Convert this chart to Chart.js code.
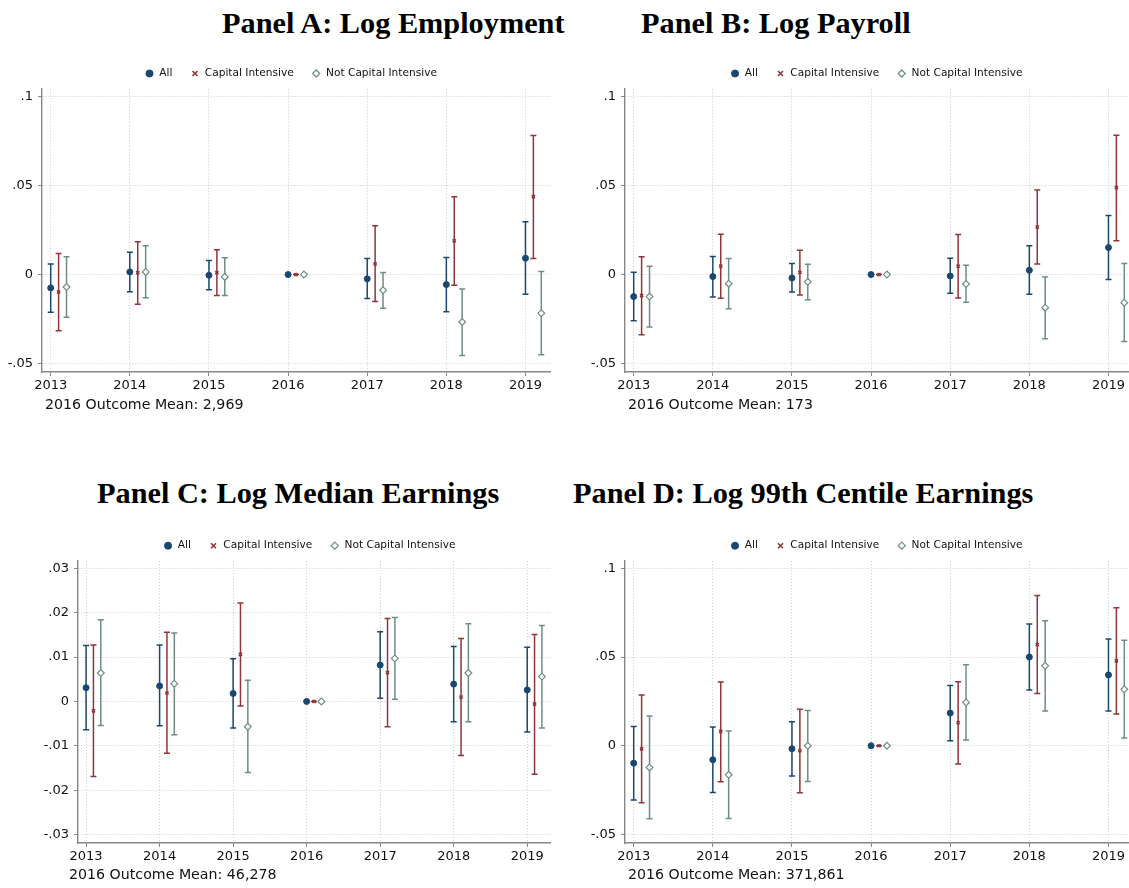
<!DOCTYPE html>
<html>
<head>
<meta charset="utf-8">
<script src="https://cdn.jsdelivr.net/npm/chart.js@4"></script>
<style>
  html, body { margin:0; padding:0; background:#fff; }
  body { width:1129px; height:888px; position:relative; overflow:hidden; }
  canvas { position:absolute; }
  .ttl { position:absolute; font-family:"Liberation Serif", serif; font-weight:bold; font-size:30.3px; line-height:30px; color:#000; white-space:nowrap; }
  .note { position:absolute; font-family:"DejaVu Sans", sans-serif; font-size:14.2px; line-height:14px; color:#111; white-space:nowrap; }
</style>
</head>
<body>
<div class="ttl" style="left:222px; top:8px;">Panel A: Log Employment</div>
<div class="ttl" style="left:641px; top:8px;">Panel B: Log Payroll</div>
<div class="ttl" style="left:97px; top:478px;">Panel C: Log Median Earnings</div>
<div class="ttl" style="left:573px; top:478px;">Panel D: Log 99th Centile Earnings</div>

<canvas id="cA" width="582" height="352" style="left:0px; top:45px;"></canvas>
<canvas id="cB" width="593" height="352" style="left:580px; top:45px;"></canvas>
<canvas id="cC" width="553" height="351" style="left:33px; top:517px;"></canvas>
<canvas id="cD" width="593" height="351" style="left:580px; top:517px;"></canvas>

<div class="note" style="left:45px; top:397px;">2016 Outcome Mean: 2,969</div>
<div class="note" style="left:628px; top:397px;">2016 Outcome Mean: 173</div>
<div class="note" style="left:69px; top:867px;">2016 Outcome Mean: 46,278</div>
<div class="note" style="left:628px; top:867px;">2016 Outcome Mean: 371,861</div>

<script>
// ---------- DATA ----------
const years = [2013, 2014, 2015, 2016, 2017, 2018, 2019];
const seriesNames = ['All', 'Capital Intensive', 'Not Capital Intensive'];

const yTicksWide = [-0.05, 0, 0.05, 0.1];
const yTickLabelsWide = ['-.05', '0', '.05', '.1'];
const yTicksNarrow = [-0.03, -0.02, -0.01, 0, 0.01, 0.02, 0.03];
const yTickLabelsNarrow = ['-.03', '-.02', '-.01', '0', '.01', '.02', '.03'];

// Panel A: Log Employment
const empAll   = [-0.0075, 0.0015, -0.0004, 0, -0.0024, -0.0056, 0.0092];
const empAllLo = [-0.0212, -0.0096, -0.0085, 0, -0.0135, -0.0209, -0.0111];
const empAllHi = [0.0060, 0.0126, 0.0079, 0, 0.0090, 0.0096, 0.0297];
const empCap   = [-0.0098, 0.0011, 0.0011, 0, 0.0060, 0.0190, 0.0438];
const empCapLo = [-0.0316, -0.0167, -0.0118, 0, -0.0152, -0.0060, 0.0090];
const empCapHi = [0.0118, 0.0184, 0.0139, 0, 0.0274, 0.0438, 0.0782];
const empNot   = [-0.0070, 0.0015, -0.0013, 0, -0.0088, -0.0267, -0.0218];
const empNotLo = [-0.0240, -0.0130, -0.0118, 0, -0.0190, -0.0455, -0.0451];
const empNotHi = [0.0100, 0.0162, 0.0094, 0, 0.0011, -0.0081, 0.0017];

// Panel B: Log Payroll
const payAll   = [-0.0124, -0.0011, -0.0019, 0, -0.0008, 0.0024, 0.0152];
const payAllLo = [-0.0260, -0.0126, -0.0098, 0, -0.0105, -0.0111, -0.0028];
const payAllHi = [0.0013, 0.0102, 0.0062, 0, 0.0092, 0.0162, 0.0333];
const payCap   = [-0.0118, 0.0047, 0.0013, 0, 0.0047, 0.0267, 0.0489];
const payCapLo = [-0.0338, -0.0133, -0.0115, 0, -0.0132, 0.0060, 0.0190];
const payCapHi = [0.0100, 0.0227, 0.0137, 0, 0.0226, 0.0476, 0.0784];
const payNot   = [-0.0124, -0.0051, -0.0041, 0, -0.0053, -0.0186, -0.0158];
const payNotLo = [-0.0295, -0.0192, -0.0141, 0, -0.0156, -0.0361, -0.0376];
const payNotHi = [0.0047, 0.0090, 0.0058, 0, 0.0053, -0.0013, 0.0062];

// Panel C: Log Median Earnings
const medAll   = [0.0031, 0.0035, 0.0018, 0, 0.0082, 0.0039, 0.0026];
const medAllLo = [-0.0064, -0.0055, -0.0060, 0, 0.0007, -0.0046, -0.0069];
const medAllHi = [0.0126, 0.0127, 0.0096, 0, 0.0157, 0.0124, 0.0122];
const medCap   = [-0.0021, 0.0019, 0.0106, 0, 0.0065, 0.0010, -0.0006];
const medCapLo = [-0.0169, -0.0117, -0.0010, 0, -0.0057, -0.0122, -0.0164];
const medCapHi = [0.0127, 0.0156, 0.0222, 0, 0.0187, 0.0142, 0.0151];
const medNot   = [0.0064, 0.0040, -0.0057, 0, 0.0097, 0.0064, 0.0056];
const medNotLo = [-0.0054, -0.0075, -0.0160, 0, 0.0005, -0.0046, -0.0060];
const medNotHi = [0.0184, 0.0154, 0.0048, 0, 0.0189, 0.0175, 0.0171];

// Panel D: Log 99th Centile Earnings
const topAll   = [-0.0098, -0.0079, -0.0017, 0, 0.0184, 0.0500, 0.0399];
const topAllLo = [-0.0306, -0.0263, -0.0171, 0, 0.0028, 0.0314, 0.0196];
const topAllHi = [0.0109, 0.0105, 0.0135, 0, 0.0340, 0.0686, 0.0602];
const topCap   = [-0.0017, 0.0081, -0.0028, 0, 0.0130, 0.0570, 0.0478];
const topCapLo = [-0.0321, -0.0203, -0.0265, 0, -0.0103, 0.0295, 0.0179];
const topCapHi = [0.0286, 0.0359, 0.0205, 0, 0.0361, 0.0846, 0.0778];
const topNot   = [-0.0122, -0.0164, 0.0000, 0, 0.0244, 0.0451, 0.0318];
const topNotLo = [-0.0412, -0.0410, -0.0201, 0, 0.0032, 0.0196, 0.0043];
const topNotHi = [0.0167, 0.0083, 0.0199, 0, 0.0457, 0.0705, 0.0594];

// ---------- STYLE ----------
const colors = ['#1a476f', '#90353b', '#6e8e84'];
const dodge = [0, 0.1, 0.2];
const FONT = '"DejaVu Sans", sans-serif';

const errorBarPlugin = {
  id: 'errorBars',
  beforeDatasetsDraw(chart) {
    const ctx = chart.ctx;
    const ys = chart.scales.y;
    chart.data.datasets.forEach((ds, di) => {
      const meta = chart.getDatasetMeta(di);
      meta.data.forEach((pt, i) => {
        const x = pt.x;
        const yl = ys.getPixelForValue(ds.lo[i]);
        const yh = ys.getPixelForValue(ds.hi[i]);
        ctx.save();
        ctx.strokeStyle = ds.borderColor;
        ctx.lineWidth = 1.5;
        ctx.beginPath();
        ctx.moveTo(x, yl); ctx.lineTo(x, yh);
        ctx.moveTo(x - 3, yl); ctx.lineTo(x + 3, yl);
        ctx.moveTo(x - 3, yh); ctx.lineTo(x + 3, yh);
        ctx.stroke();
        ctx.restore();
      });
    });
  }
};

function makeDatasets(est, lo, hi) {
  const styles = [
    { pointStyle: 'circle', radius: 3, bg: colors[0], bw: 1 },
    { pointStyle: 'crossRot', radius: 2.2, bg: colors[1], bw: 1.6 },
    { pointStyle: 'rectRot', radius: 3.4, bg: '#ffffff', bw: 1.2 }
  ];
  return est.map((e, k) => ({
    label: seriesNames[k],
    data: years.map((yr, i) => ({ x: yr + dodge[k], y: e[i] })),
    lo: lo[k], hi: hi[k],
    showLine: false,
    borderColor: colors[k],
    backgroundColor: styles[k].bg,
    pointStyle: styles[k].pointStyle,
    pointRadius: styles[k].radius,
    pointBackgroundColor: styles[k].bg,
    pointBorderColor: colors[k],
    pointBorderWidth: styles[k].bw,
    borderWidth: styles[k].bw
  }));
}

function makeChart(id, est, lo, hi, yTicks, yLabels, ymin, ymax, opts) {
  new Chart(document.getElementById(id), {
    type: 'scatter',
    data: { datasets: makeDatasets(est, lo, hi) },
    plugins: [errorBarPlugin],
    options: {
      responsive: false,
      animation: false,
      devicePixelRatio: 1,
      layout: { padding: { top: opts.padTop, right: 0, left: 0, bottom: 0 } },
      plugins: {
        tooltip: { enabled: false },
        legend: {
          position: 'top',
          labels: {
            usePointStyle: true,
            boxWidth: 9, boxHeight: 5,
            padding: 18,
            color: '#111',
            font: { family: FONT, size: 10.6 }
          }
        }
      },
      scales: {
        x: {
          type: 'linear',
          min: 2012.89, max: 2019.31,
          afterBuildTicks: s => { s.ticks = years.map(v => ({ value: v })); },
          afterFit: s => { s.height = 25; },
          ticks: { color: '#111', font: { family: FONT, size: 13 }, padding: 2, maxRotation: 0, callback: v => String(v) },
          grid: { color: '#cccccc', lineWidth: 1, tickLength: 4, tickColor: '#888', tickWidth: 1, tickBorderDash: [] },
          border: { display: true, color: '#888', width: 1.4, dash: [1, 2] }
        },
        y: {
          type: 'linear',
          min: ymin, max: ymax,
          afterBuildTicks: s => { s.ticks = yTicks.map(v => ({ value: v })); },
          afterFit: s => { s.width = opts.yW; },
          ticks: { color: '#111', font: { family: FONT, size: 13 }, padding: 5,
                   callback: (v) => { const i = yTicks.findIndex(t => Math.abs(t - v) < 1e-9); return i >= 0 ? yLabels[i] : ''; } },
          grid: { color: '#cccccc', lineWidth: 1, tickLength: 4, tickColor: '#888', tickWidth: 1, tickBorderDash: [] },
          border: { display: true, color: '#888', width: 1.4, dash: [1, 2] }
        },
        spacer: {
          type: 'linear', position: 'right', display: true,
          afterFit: s => { s.width = opts.rightGap; },
          ticks: { display: false },
          grid: { display: false, drawOnChartArea: false },
          border: { display: false }
        }
      }
    }
  });
}

makeChart('cA', [empAll, empCap, empNot], [empAllLo, empCapLo, empNotLo], [empAllHi, empCapHi, empNotHi],
  yTicksWide, yTickLabelsWide, -0.0548, 0.1045, { padTop: 5.2, rightGap: 32, yW: 42 });
makeChart('cB', [payAll, payCap, payNot], [payAllLo, payCapLo, payNotLo], [payAllHi, payCapHi, payNotHi],
  yTicksWide, yTickLabelsWide, -0.0548, 0.1045, { padTop: 5.2, rightGap: 40, yW: 45 });
makeChart('cC', [medAll, medCap, medNot], [medAllLo, medCapLo, medNotLo], [medAllHi, medCapHi, medNotHi],
  yTicksNarrow, yTickLabelsNarrow, -0.0319, 0.03165, { padTop: 5.4, rightGap: 36, yW: 45 });
makeChart('cD', [topAll, topCap, topNot], [topAllLo, topCapLo, topNotLo], [topAllHi, topCapHi, topNotHi],
  yTicksWide, yTickLabelsWide, -0.0548, 0.1041, { padTop: 5.4, rightGap: 40, yW: 45 });
</script>
</body>
</html>
